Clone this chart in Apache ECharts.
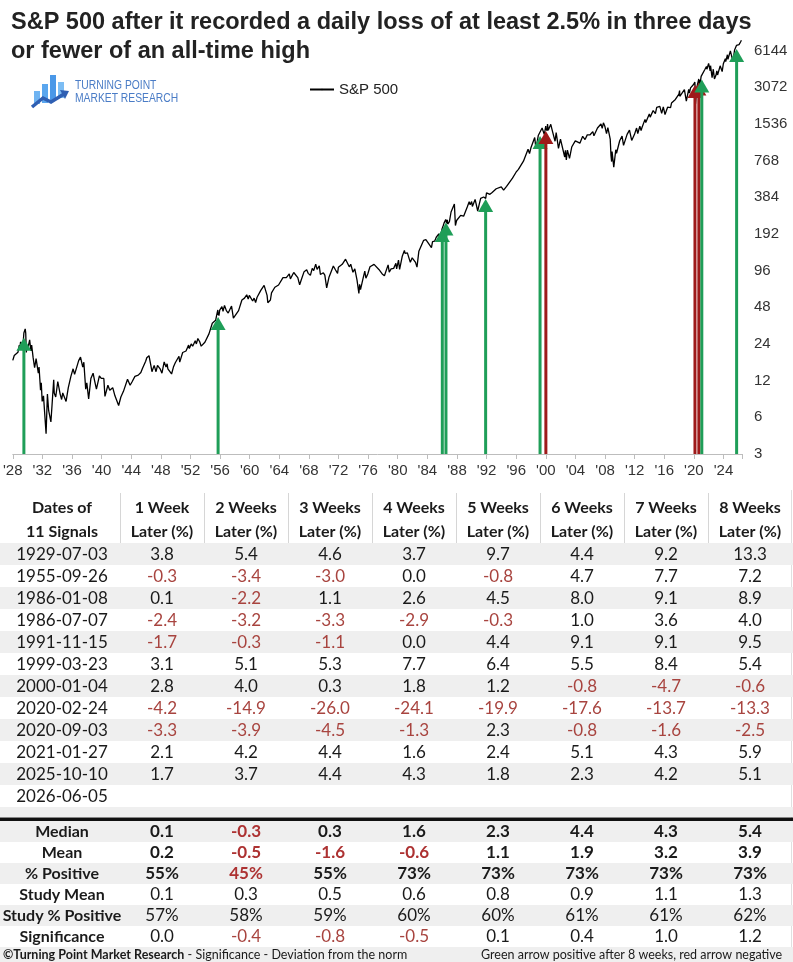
<!DOCTYPE html>
<html>
<head>
<meta charset="utf-8">
<title>S&amp;P 500 after a 2.5% loss near an all-time high</title>
<script src="https://cdn.jsdelivr.net/npm/echarts@6.0.0/dist/echarts.min.js"></script>
<style>
  html, body { margin: 0; padding: 0; background: #fff; }
  #main { width: 793px; height: 962px; }
</style>
</head>
<body>
<div id="main"></div>
<script>
// ---- data ----
var titleLines = ['S&P 500 after it recorded a daily loss of at least 2.5% in three days', 'or fewer of an all-time high'];

// S&P 500 level, [decimal year, close]
var spxPoints = [
  [1928.00,17.6],[1928.20,19.3],[1928.40,20.0],[1928.45,18.6],[1928.70,20.5],[1928.88,23.5],[1928.95,22.0],
  [1929.05,24.9],[1929.20,24.0],[1929.38,23.5],[1929.50,29.5],[1929.68,31.9],[1929.75,29.5],[1929.83,20.4],[1929.90,23.0],
  [1930.00,21.5],[1930.28,25.9],[1930.45,21.0],[1930.55,23.5],[1930.75,18.5],[1930.95,15.3],
  [1931.15,18.2],[1931.45,13.8],[1931.55,15.5],[1931.75,10.0],[1931.85,11.5],[1931.97,8.1],
  [1932.15,9.0],[1932.50,4.4],[1932.68,9.3],[1932.85,6.8],[1933.15,5.5],[1933.30,7.5],[1933.53,12.2],[1933.60,9.5],[1933.80,8.8],
  [1934.08,11.8],[1934.40,9.3],[1934.60,8.4],[1934.75,9.5],[1935.20,8.1],[1935.50,10.5],[1935.85,13.0],
  [1936.15,15.0],[1936.35,13.5],[1936.90,17.5],[1937.15,18.7],[1937.45,15.5],[1937.60,17.0],[1937.85,10.2],
  [1938.00,11.5],[1938.25,8.5],[1938.55,12.5],[1938.85,13.8],[1939.05,12.0],[1939.30,10.2],[1939.70,13.1],[1939.95,12.5],
  [1940.30,12.5],[1940.45,8.9],[1940.85,11.0],[1941.10,10.0],[1941.50,10.5],[1941.80,9.0],[1942.30,7.5],[1942.60,8.8],[1942.95,9.8],
  [1943.50,12.3],[1943.85,11.0],[1944.10,11.7],[1944.50,13.0],[1944.95,13.3],[1945.30,14.0],[1945.50,15.0],[1945.95,17.3],
  [1946.10,18.5],[1946.40,19.2],[1946.65,16.0],[1946.80,14.2],[1947.10,16.0],[1947.35,14.2],[1947.55,16.0],[1947.90,15.0],
  [1948.15,13.8],[1948.45,17.1],[1948.70,15.5],[1948.85,16.5],[1948.95,15.0],[1949.20,15.5],[1949.45,13.6],[1949.70,15.5],[1949.95,16.8],
  [1950.45,19.0],[1950.55,17.0],[1950.95,20.4],[1951.40,21.0],[1951.55,21.5],[1951.75,23.5],[1951.85,22.0],
  [1952.10,24.0],[1952.30,23.0],[1952.65,25.5],[1952.80,24.0],[1953.00,26.6],[1953.25,25.0],[1953.45,23.0],[1953.70,22.7],[1953.95,24.8],
  [1954.50,29.0],[1954.95,35.5],[1955.20,36.5],[1955.40,37.5],[1955.60,43.0],[1955.70,45.6],[1955.73,42.6],[1955.85,41.0],[1955.95,45.5],
  [1956.25,48.5],[1956.40,44.5],[1956.60,49.7],[1956.85,45.0],[1957.10,43.0],[1957.55,49.1],[1957.80,39.0],[1957.95,40.0],
  [1958.50,45.0],[1958.95,55.0],[1959.30,57.0],[1959.60,60.7],[1959.80,56.0],[1959.95,60.0],
  [1960.40,54.0],[1960.60,57.0],[1960.80,52.5],[1961.00,58.0],[1961.50,66.0],[1961.95,72.6],[1962.35,60.0],[1962.45,52.3],[1962.80,55.0],[1962.95,63.0],
  [1963.40,70.0],[1963.90,73.0],[1963.98,75.0],[1964.50,84.0],[1964.95,84.0],[1965.35,90.0],[1965.50,82.0],[1965.95,92.5],
  [1966.10,94.0],[1966.50,84.0],[1966.75,73.2],[1966.95,80.0],[1967.35,94.0],[1967.70,97.5],[1967.90,91.0],
  [1968.20,87.7],[1968.45,100.0],[1968.65,96.0],[1968.92,108.4],[1969.10,98.0],[1969.40,105.0],[1969.55,89.0],[1969.95,92.0],
  [1970.15,88.0],[1970.40,69.3],[1970.70,84.0],[1970.95,92.0],[1971.30,104.6],[1971.60,97.0],[1971.87,91.0],[1971.98,102.0],
  [1972.50,108.0],[1972.95,119.0],[1973.05,120.2],[1973.45,103.0],[1973.65,108.0],[1973.80,111.0],[1973.95,93.0],
  [1974.20,99.0],[1974.50,80.0],[1974.75,62.3],[1974.85,74.0],[1974.97,67.0],[1975.30,82.0],[1975.55,95.0],[1975.70,83.0],[1975.95,90.0],
  [1976.25,103.0],[1976.50,104.0],[1976.80,107.8],[1976.95,107.0],[1977.45,98.0],[1977.90,90.0],[1978.20,86.9],[1978.70,106.9],[1978.85,93.0],
  [1979.10,99.0],[1979.45,100.0],[1979.75,110.0],[1979.85,99.0],[1980.10,117.0],[1980.25,98.2],[1980.60,125.0],[1980.90,140.5],[1980.98,133.0],
  [1981.30,134.0],[1981.70,112.0],[1981.95,122.0],[1982.40,112.0],[1982.60,102.4],[1982.85,138.0],[1982.98,140.0],
  [1983.50,170.0],[1983.80,172.0],[1984.00,167.0],[1984.55,147.8],[1984.70,166.0],[1984.98,167.0],
  [1985.20,180.0],[1985.55,192.0],[1985.75,181.0],[1985.99,211.3],[1986.02,205.0],[1986.15,225.0],[1986.25,235.0],[1986.35,233.0],
  [1986.48,252.0],[1986.52,244.0],[1986.60,234.0],[1986.70,250.0],[1986.75,231.0],[1986.98,242.0],
  [1987.20,290.0],[1987.35,282.0],[1987.65,336.8],[1987.79,224.8],[1987.95,247.0],[1988.10,243.0],[1988.50,272.0],[1988.90,268.0],[1988.98,278.0],
  [1989.40,320.0],[1989.65,352.0],[1989.78,333.0],[1989.98,353.0],[1990.08,322.0],[1990.45,368.0],[1990.80,295.5],[1990.98,330.0],
  [1991.20,375.0],[1991.60,385.0],[1991.82,397.4],[1991.88,375.0],[1991.99,417.0],[1992.20,405.0],[1992.45,405.0],[1992.75,420.0],[1992.98,436.0],
  [1993.30,450.0],[1993.98,466.0],[1994.08,482.0],[1994.30,438.0],[1994.70,470.0],[1994.95,455.0],[1995.50,550.0],[1995.98,615.0],
  [1996.30,650.0],[1996.55,630.0],[1996.98,757.0],[1997.25,740.0],[1997.60,950.0],[1997.80,876.0],[1997.98,970.0],
  [1998.50,1186.0],[1998.67,957.0],[1998.98,1229.0],[1999.15,1240.0],[1999.22,1262.0],[1999.50,1418.0],[1999.80,1250.0],[1999.99,1469.0],
  [2000.01,1399.0],[2000.18,1346.0],[2000.23,1527.0],[2000.33,1360.0],[2000.67,1520.0],[2000.85,1370.0],[2000.99,1320.0],
  [2001.25,1103.0],[2001.40,1300.0],[2001.71,966.0],[2001.98,1148.0],[2002.20,1170.0],[2002.55,820.0],[2002.65,930.0],[2002.77,777.0],[2002.92,935.0],
  [2003.20,800.0],[2003.50,990.0],[2003.98,1112.0],[2004.20,1150.0],[2004.60,1065.0],[2004.98,1212.0],[2005.30,1140.0],[2005.60,1245.0],[2005.98,1248.0],
  [2006.35,1325.0],[2006.50,1223.0],[2006.98,1418.0],[2007.15,1375.0],[2007.45,1530.0],[2007.62,1406.0],[2007.78,1565.0],[2007.97,1468.0],
  [2008.20,1273.0],[2008.38,1426.0],[2008.70,1150.0],[2008.80,850.0],[2008.89,752.0],[2008.95,910.0],[2009.18,677.0],[2009.45,940.0],[2009.55,880.0],[2009.98,1115.0],
  [2010.30,1217.0],[2010.50,1022.0],[2010.98,1257.0],[2011.30,1363.0],[2011.60,1120.0],[2011.76,1099.0],[2011.98,1258.0],
  [2012.26,1416.0],[2012.42,1278.0],[2012.70,1465.0],[2012.87,1353.0],[2012.98,1426.0],[2013.40,1669.0],[2013.50,1573.0],[2013.98,1848.0],
  [2014.10,1741.0],[2014.50,1970.0],[2014.80,1862.0],[2014.98,2090.0],[2015.40,2130.0],[2015.65,1867.0],[2015.87,2109.0],
  [2016.10,1829.0],[2016.45,2100.0],[2016.85,2085.0],[2016.98,2270.0],[2017.50,2430.0],[2017.98,2690.0],
  [2018.07,2873.0],[2018.10,2581.0],[2018.72,2930.0],[2018.98,2351.0],[2019.30,2945.0],[2019.40,2744.0],[2019.55,3025.0],[2019.98,3240.0],
  [2020.13,3386.0],[2020.15,3225.0],[2020.22,2237.0],[2020.40,3050.0],[2020.66,3580.0],[2020.68,3455.0],[2020.73,3237.0],[2020.80,3500.0],[2020.84,3270.0],[2020.98,3756.0],
  [2021.05,3855.0],[2021.07,3750.0],[2021.50,4300.0],[2021.70,4536.0],[2021.76,4300.0],[2021.99,4796.0],
  [2022.20,4170.0],[2022.25,4600.0],[2022.46,3667.0],[2022.62,4305.0],[2022.78,3577.0],[2022.98,3840.0],
  [2023.10,4180.0],[2023.20,3860.0],[2023.55,4590.0],[2023.82,4117.0],[2023.98,4770.0],
  [2024.25,5250.0],[2024.30,4970.0],[2024.53,5660.0],[2024.60,5186.0],[2024.93,6090.0],[2025.00,5870.0],[2025.13,6144.0],[2025.27,4982.0],
  [2025.50,6200.0],[2025.75,6750.0],[2025.77,6550.0],[2025.82,6890.0],[2025.88,6540.0],[2025.97,6930.0],
  [2026.10,6850.0],[2026.20,7000.0],[2026.30,7200.0],[2026.42,7450.0],[2026.43,7250.0]
];

var signalDates = ['1929-07-03','1955-09-26','1986-01-08','1986-07-07','1991-11-15','1999-03-23',
                   '2000-01-04','2020-02-24','2020-09-03','2021-01-27','2025-10-10','2026-06-05'];
// index level at each signal (arrow tips), the last signal has no arrow yet
var signalPrices = [27, 40, 210, 238, 370, 1220, 1340, 3200, 3350, 3550, 6300];

var weekHeaders = ['1 Week','2 Weeks','3 Weeks','4 Weeks','5 Weeks','6 Weeks','7 Weeks','8 Weeks'];
var signalReturns = [
  [3.8, 5.4, 4.6, 3.7, 9.7, 4.4, 9.2, 13.3],
  [-0.3, -3.4, -3.0, 0.0, -0.8, 4.7, 7.7, 7.2],
  [0.1, -2.2, 1.1, 2.6, 4.5, 8.0, 9.1, 8.9],
  [-2.4, -3.2, -3.3, -2.9, -0.3, 1.0, 3.6, 4.0],
  [-1.7, -0.3, -1.1, 0.0, 4.4, 9.1, 9.1, 9.5],
  [3.1, 5.1, 5.3, 7.7, 6.4, 5.5, 8.4, 5.4],
  [2.8, 4.0, 0.3, 1.8, 1.2, -0.8, -4.7, -0.6],
  [-4.2, -14.9, -26.0, -24.1, -19.9, -17.6, -13.7, -13.3],
  [-3.3, -3.9, -4.5, -1.3, 2.3, -0.8, -1.6, -2.5],
  [2.1, 4.2, 4.4, 1.6, 2.4, 5.1, 4.3, 5.9],
  [1.7, 3.7, 4.4, 4.3, 1.8, 2.3, 4.2, 5.1],
  []
];

var medianRow = [0.1, -0.3, 0.3, 1.6, 2.3, 4.4, 4.3, 5.4];
var meanRow = [0.2, -0.5, -1.6, -0.6, 1.1, 1.9, 3.2, 3.9];
var pctPositiveRow = [55, 45, 55, 73, 73, 73, 73, 73];
var studyMeanRow = [0.1, 0.3, 0.5, 0.6, 0.8, 0.9, 1.1, 1.3];
var studyPctPositiveRow = [57, 58, 59, 60, 60, 61, 61, 62];
var significanceRow = [0.0, -0.4, -0.8, -0.5, 0.1, 0.4, 1.0, 1.2];

// ---- helpers ----
var GREEN = '#1f9e58', RED = '#9e1a1a';
var NEG = '#a8443f', NEG_BOLD = '#ad3232', INK = '#1a1a1a';
var TFONT = 'Lato, "Open Sans", sans-serif';

function toYear(d) {
  var p = d.split('-');
  var y = +p[0];
  var start = Date.UTC(y, 0, 1), end = Date.UTC(y + 1, 0, 1);
  return y + (Date.UTC(y, +p[1] - 1, +p[2]) - start) / (end - start);
}
function lg(v) { return Math.log2(v / 3); }   // axis counts doublings above 3

var lineData = spxPoints.map(function (p) { return [p[0], lg(p[1])]; });
var arrowData = signalPrices.map(function (v, i) {
  return [toYear(signalDates[i]), lg(v), signalReturns[i][7]];
});

// ---- table as graphic elements ----
var colX0 = 120, colW = 84, firstCx = 62;
function cx(c) { return colX0 + colW * c + colW / 2; }
function txt(s, x, y, opt) {
  opt = opt || {};
  return {
    type: 'text', x: x, y: y, silent: true,
    style: {
      text: s, align: opt.align || 'center', verticalAlign: 'middle',
      font: (opt.bold ? 'bold ' : '') + (opt.size || 17) + 'px ' + TFONT,
      fill: opt.color || INK, rich: opt.rich
    }
  };
}
function box(x, y, w, h, fill) {
  return { type: 'rect', silent: true, shape: { x: x, y: y, width: w, height: h }, style: { fill: fill } };
}
function fmt(v) { return v.toFixed(1); }

var els = [];
// header
for (var i = 0; i < 8; i++) {
  els.push({ type: 'line', silent: true, shape: { x1: colX0 + colW * i + 0.5, y1: 493, x2: colX0 + colW * i + 0.5, y2: 543 }, style: { stroke: '#d6d6d6', lineWidth: 1 } });
}
els.push({ type: 'line', silent: true, shape: { x1: 791.5, y1: 490, x2: 791.5, y2: 947 }, style: { stroke: '#e0e0e0', lineWidth: 1 } });
els.push(txt('Dates of', firstCx, 508, { bold: true, size: 16 }));
els.push(txt('11 Signals', firstCx, 532, { bold: true, size: 16 }));
weekHeaders.forEach(function (h, c) {
  els.push(txt(h, cx(c), 508, { bold: true, size: 16 }));
  els.push(txt('Later (%)', cx(c), 532, { bold: true, size: 16 }));
});
// signal rows
signalDates.forEach(function (d, r) {
  var y0 = 543 + 22 * r;
  if (r % 2 === 0) els.push(box(0, y0, 793, 22, '#efefef'));
  els.push(txt(d, firstCx, y0 + 11.5));
  signalReturns[r].forEach(function (v, c) {
    els.push(txt(fmt(v), cx(c), y0 + 11.5, { color: v < 0 ? NEG : INK }));
  });
});
els.push(box(0, 807, 793, 10, '#efefef'));
els.push(box(0, 817.5, 793, 3.5, '#111'));
// summary rows
var summary = [
  { label: 'Median', vals: medianRow, bold: true },
  { label: 'Mean', vals: meanRow, bold: true },
  { label: '% Positive', vals: pctPositiveRow, bold: true, pct: true },
  { label: 'Study Mean', vals: studyMeanRow },
  { label: 'Study % Positive', vals: studyPctPositiveRow, pct: true },
  { label: 'Significance', vals: significanceRow }
];
summary.forEach(function (row, j) {
  var y0 = 821 + 21 * j;
  if (j % 2 === 0) els.push(box(0, y0, 793, 21, '#efefef'));
  els.push(txt(row.label, firstCx, y0 + 10.5, { bold: true, size: 16 }));
  row.vals.forEach(function (v, c) {
    var neg = row.pct ? v < 50 && row.bold : v < 0;
    els.push(txt(row.pct ? v + '%' : fmt(v), cx(c), y0 + 10.5, {
      bold: row.bold, color: neg ? (row.bold ? NEG_BOLD : NEG) : INK
    }));
  });
});
els.push(box(0, 947, 793, 15, '#efefef'));
els.push(txt('{b|©Turning Point Market Research} - Significance - Deviation from the norm', 3, 954.5, {
  align: 'left', size: 12.5, rich: { b: { fontWeight: 'bold', fontSize: 12.5, fontFamily: TFONT, fill: INK } }
}));
els.push(txt('Green arrow positive after 8 weeks, red arrow negative', 481, 954.5, { align: 'left', size: 12.5 }));

// logo
els.push({
  type: 'group', x: 30, y: 72, silent: true,
  children: [
    box(4, 19, 6, 13, '#6fb4f2'),
    box(12, 12, 6, 19, '#5aa6ee'),
    box(20, 3, 6, 26, '#4a98e8'),
    box(28, 10, 6, 16, '#7cbdf4'),
    { type: 'polyline', shape: { points: [[2, 35], [13, 26], [21, 30], [34, 22]] }, style: { stroke: '#2f5fb3', lineWidth: 3.5, fill: null } },
    { type: 'polygon', shape: { points: [[39, 19], [30, 18], [35, 27]] }, style: { fill: '#2f5fb3' } }
  ]
});
els.push({ type: 'text', x: 75, y: 86, scaleX: 0.86, silent: true, style: { text: 'TURNING POINT', font: '12px Arial, "Liberation Sans", sans-serif', fill: '#4a7cc6', verticalAlign: 'middle' } });
els.push({ type: 'text', x: 75, y: 98.5, scaleX: 0.86, silent: true, style: { text: 'MARKET RESEARCH', font: '12px Arial, "Liberation Sans", sans-serif', fill: '#4a7cc6', verticalAlign: 'middle' } });

// ---- chart ----
var chart = echarts.init(document.getElementById('main'), null, { renderer: 'canvas' });
var option = {
  animation: false,
  backgroundColor: '#ffffff',
  title: {
    text: titleLines.join('\n'),
    left: 6, top: 3,
    textStyle: { fontFamily: 'Arial, "Liberation Sans", sans-serif', fontSize: 23.5, fontWeight: 'bold', color: '#222', lineHeight: 29 }
  },
  legend: {
    data: ['S&P 500'], left: 304, top: 77,
    itemWidth: 24, itemHeight: 2, itemGap: 6,
    textStyle: { fontFamily: 'Arial, "Liberation Sans", sans-serif', fontSize: 15, color: '#222' }
  },
  grid: { left: 3, right: 51, top: 39, bottom: 508, containLabel: false },
  xAxis: {
    type: 'value', min: 1928, max: 2026.5, interval: 4,
    splitLine: { show: false },
    axisLine: { lineStyle: { color: '#bdbdbd' } },
    axisTick: { length: 5, lineStyle: { color: '#bdbdbd' } },
    axisLabel: {
      margin: 9, color: '#333', fontSize: 15, fontFamily: 'Arial, "Liberation Sans", sans-serif',
      alignMinLabel: 'center',
      formatter: function (v) { return v % 4 === 0 ? "'" + String(v).slice(2) : ''; }
    }
  },
  yAxis: {
    type: 'value', position: 'right', min: 0, max: 11.31, interval: 1,
    splitLine: { show: false }, axisLine: { show: false }, axisTick: { show: false },
    axisLabel: {
      margin: 12, color: '#333', fontSize: 15, fontFamily: 'Arial, "Liberation Sans", sans-serif',
      formatter: function (v) { return Number.isInteger(v) ? String(3 * Math.pow(2, v)) : ''; }
    }
  },
  series: [
    {
      name: 'S&P 500', type: 'line', data: lineData, symbol: 'none', z: 2,
      lineStyle: { color: '#000', width: 1.3 }, itemStyle: { color: '#000' }
    },
    {
      name: 'signals', type: 'custom', data: arrowData, z: 5,
      encode: { x: 0, y: 1 },
      renderItem: function (params, api) {
        var top = api.coord([api.value(0), api.value(1)]);
        var base = api.coord([api.value(0), 0]);
        var col = api.value(2) < 0 ? RED : GREEN;
        return {
          type: 'group',
          children: [
            { type: 'line', shape: { x1: top[0], y1: top[1] + 10, x2: base[0], y2: base[1] }, style: { stroke: col, lineWidth: 3 } },
            { type: 'polygon', shape: { points: [[top[0], top[1]], [top[0] - 7.5, top[1] + 13], [top[0] + 7.5, top[1] + 13]] }, style: { fill: col } }
          ]
        };
      }
    }
  ],
  graphic: els
};
chart.setOption(option);
</script>
</body>
</html>
